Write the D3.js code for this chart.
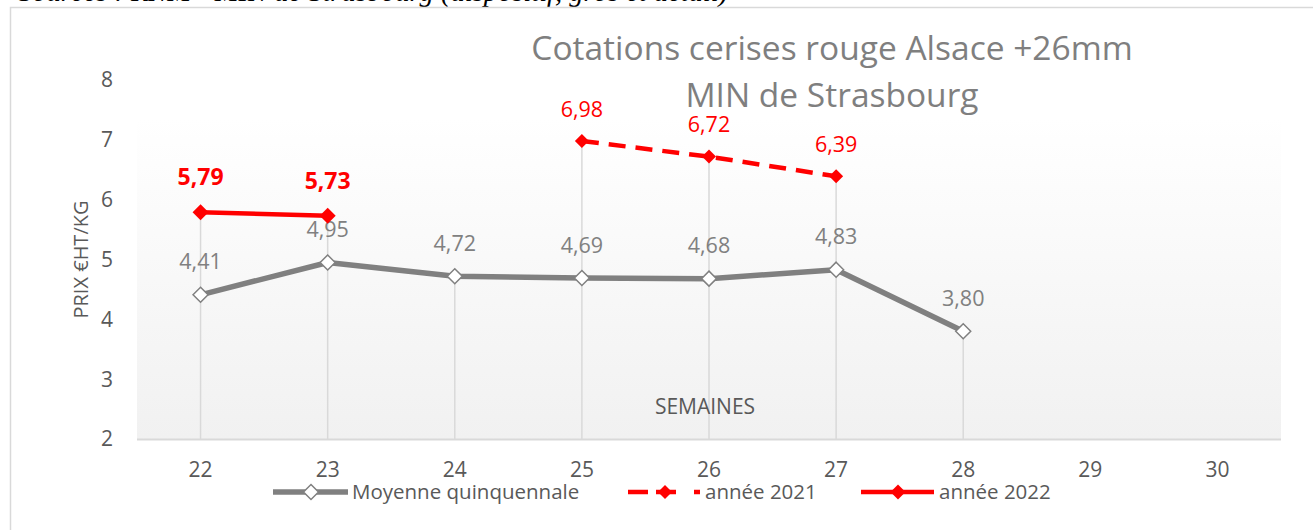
<!DOCTYPE html>
<html>
<head>
<meta charset="utf-8">
<script src="https://cdn.jsdelivr.net/npm/d3@7"></script>
<style>
  body { margin: 0; background: #fff; }
  svg text { font-family: "Open Sans", sans-serif; }
</style>
</head>
<body>
<svg id="chart" width="1313" height="530"></svg>
<script>
const weeks = ["22", "23", "24", "25", "26", "27", "28", "29", "30"];
const moyenne = [
  { week: "22", value: 4.41 }, { week: "23", value: 4.95 }, { week: "24", value: 4.72 },
  { week: "25", value: 4.69 }, { week: "26", value: 4.68 }, { week: "27", value: 4.83 },
  { week: "28", value: 3.80 }
];
const annee2021 = [
  { week: "25", value: 6.98 }, { week: "26", value: 6.72 }, { week: "27", value: 6.39 }
];
const annee2022 = [
  { week: "22", value: 5.79 }, { week: "23", value: 5.73 }
];
const yTicks = [2, 3, 4, 5, 6, 7, 8];

const svg = d3.select("#chart");
const margin = { top: 80, left: 137, right: 32, bottom: 91 };
const W = 1313, H = 530;

const x = d3.scaleBand().domain(weeks).range([margin.left, W - margin.right]);
const y = d3.scaleLinear().domain([2, 8]).range([H - margin.bottom, margin.top]);
const cx = d => x(d.week) + x.bandwidth() / 2;

const fmt = v => v.toFixed(2).replace(".", ",");

// source line, cut off at the top of the picture
svg.append("text")
  .attr("x", 18).attr("y", 1)
  .style("font-family", "'Liberation Serif', serif")
  .style("font-style", "italic")
  .style("font-size", "28.5px")
  .attr("fill", "#000")
  .text("Sources : RNM - MIN de Strasbourg (dispositif, gros et détail)");

// chart frame
svg.append("path")
  .attr("d", `M10.5,${H} V7.5 H${W}`)
  .attr("fill", "none")
  .attr("stroke", "#d9d9d9")
  .attr("stroke-width", 1.5);

// plot area gradient
const defs = svg.append("defs");
const grad = defs.append("linearGradient")
  .attr("id", "plotbg").attr("x1", 0).attr("y1", 0).attr("x2", 0).attr("y2", 1);
grad.append("stop").attr("offset", "0%").attr("stop-color", "#ffffff");
grad.append("stop").attr("offset", "100%").attr("stop-color", "#f1f1f1");

const plotTop = 118;
svg.append("rect")
  .attr("x", margin.left).attr("y", plotTop)
  .attr("width", W - margin.left - margin.right)
  .attr("height", y(2) - plotTop)
  .attr("fill", "url(#plotbg)");

// x axis line
svg.append("line")
  .attr("x1", margin.left).attr("x2", W - margin.right)
  .attr("y1", y(2) + 0.5).attr("y2", y(2) + 0.5)
  .attr("stroke", "#d9d9d9").attr("stroke-width", 2);

// drop lines from the highest point of each week
const all = moyenne.concat(annee2021, annee2022);
const tops = d3.rollups(all, v => d3.max(v, d => d.value), d => d.week)
  .map(([week, value]) => ({ week, value }));
svg.append("g").selectAll("line")
  .data(tops).join("line")
  .attr("x1", cx).attr("x2", cx)
  .attr("y1", d => y(d.value)).attr("y2", y(2))
  .attr("stroke", "#d9d9d9").attr("stroke-width", 1.5);

// y tick labels
svg.append("g").selectAll("text")
  .data(yTicks).join("text")
  .attr("x", 113).attr("y", d => y(d))
  .attr("dy", "0.35em")
  .attr("text-anchor", "end")
  .attr("fill", "#595959")
  .style("font-size", "21px")
  .text(d => d);

// x tick labels
svg.append("g").selectAll("text")
  .data(weeks).join("text")
  .attr("x", d => x(d) + x.bandwidth() / 2).attr("y", 470)
  .attr("dy", "0.35em")
  .attr("text-anchor", "middle")
  .attr("fill", "#595959")
  .style("font-size", "21px")
  .text(d => d);

// axis titles
svg.append("text")
  .attr("transform", `translate(81,${y(5)}) rotate(-90)`)
  .attr("text-anchor", "middle")
  .attr("dy", "0.35em")
  .attr("fill", "#595959")
  .style("font-size", "20px")
  .text("PRIX €HT/KG");

svg.append("text")
  .attr("x", 705).attr("y", 407)
  .attr("dy", "0.35em")
  .attr("text-anchor", "middle")
  .attr("fill", "#595959")
  .style("font-size", "21px")
  .text("SEMAINES");

// chart title
const title = svg.append("text")
  .attr("text-anchor", "middle")
  .attr("fill", "#7f7f7f")
  .style("font-size", "33.5px");
title.append("tspan").attr("x", 832).attr("y", 60).text("Cotations cerises rouge Alsace +26mm");
title.append("tspan").attr("x", 832).attr("y", 107).text("MIN de Strasbourg");

const line = d3.line().x(cx).y(d => y(d.value));
const diamond = s => `M0,${-s}L${s},0L0,${s}L${-s},0Z`;

// moyenne quinquennale
svg.append("path")
  .datum(moyenne)
  .attr("d", line)
  .attr("fill", "none")
  .attr("stroke", "#808080")
  .attr("stroke-width", 5.5)
  .attr("stroke-linejoin", "round");
svg.append("g").selectAll("path")
  .data(moyenne).join("path")
  .attr("transform", d => `translate(${cx(d)},${y(d.value)})`)
  .attr("d", diamond(7.5))
  .attr("fill", "#fff")
  .attr("stroke", "#808080")
  .attr("stroke-width", 1.5);
svg.append("g").selectAll("text")
  .data(moyenne).join("text")
  .attr("x", cx).attr("y", d => y(d.value) - 33)
  .attr("dy", "0.35em")
  .attr("text-anchor", "middle")
  .attr("fill", "#808080")
  .style("font-size", "21.5px")
  .text(d => fmt(d.value));

// année 2021
svg.append("path")
  .datum(annee2021)
  .attr("d", line)
  .attr("fill", "none")
  .attr("stroke", "#ff0000")
  .attr("stroke-width", 4.5)
  .attr("stroke-dasharray", "17,10");
svg.append("g").selectAll("path")
  .data(annee2021).join("path")
  .attr("transform", d => `translate(${cx(d)},${y(d.value)})`)
  .attr("d", diamond(7))
  .attr("fill", "#ff0000");
svg.append("g").selectAll("text")
  .data(annee2021).join("text")
  .attr("x", cx).attr("y", d => y(d.value) - 32)
  .attr("dy", "0.35em")
  .attr("text-anchor", "middle")
  .attr("fill", "#ff0000")
  .style("font-size", "21.5px")
  .text(d => fmt(d.value));

// année 2022
svg.append("path")
  .datum(annee2022)
  .attr("d", line)
  .attr("fill", "none")
  .attr("stroke", "#ff0000")
  .attr("stroke-width", 4.5);
svg.append("g").selectAll("path")
  .data(annee2022).join("path")
  .attr("transform", d => `translate(${cx(d)},${y(d.value)})`)
  .attr("d", diamond(8))
  .attr("fill", "#ff0000");
svg.append("g").selectAll("text")
  .data(annee2022).join("text")
  .attr("x", cx).attr("y", d => y(d.value) - 35)
  .attr("dy", "0.35em")
  .attr("text-anchor", "middle")
  .attr("fill", "#ff0000")
  .style("font-size", "23px")
  .style("font-weight", "bold")
  .text(d => fmt(d.value));

// legend
const ly = 492;
const lg = svg.append("g");
lg.append("line").attr("x1", 273).attr("x2", 348).attr("y1", ly).attr("y2", ly)
  .attr("stroke", "#808080").attr("stroke-width", 5.5);
lg.append("path").attr("transform", `translate(311,${ly})`).attr("d", diamond(7.5))
  .attr("fill", "#fff").attr("stroke", "#808080").attr("stroke-width", 1.5);
lg.append("text").attr("x", 352).attr("y", ly).attr("dy", "0.35em")
  .attr("fill", "#595959").style("font-size", "20.5px").text("Moyenne quinquennale");

lg.append("line").attr("x1", 628).attr("x2", 700).attr("y1", ly).attr("y2", ly)
  .attr("stroke", "#ff0000").attr("stroke-width", 4.5).attr("stroke-dasharray", "20,8,20,18,6");
lg.append("path").attr("transform", `translate(665,${ly})`).attr("d", diamond(7))
  .attr("fill", "#ff0000");
lg.append("text").attr("x", 705).attr("y", ly).attr("dy", "0.35em")
  .attr("fill", "#595959").style("font-size", "20.5px").text("année 2021");

lg.append("line").attr("x1", 861).attr("x2", 934).attr("y1", ly).attr("y2", ly)
  .attr("stroke", "#ff0000").attr("stroke-width", 4.5);
lg.append("path").attr("transform", `translate(898,${ly})`).attr("d", diamond(7.5))
  .attr("fill", "#ff0000");
lg.append("text").attr("x", 939).attr("y", ly).attr("dy", "0.35em")
  .attr("fill", "#595959").style("font-size", "20.5px").text("année 2022");
</script>
</body>
</html>
